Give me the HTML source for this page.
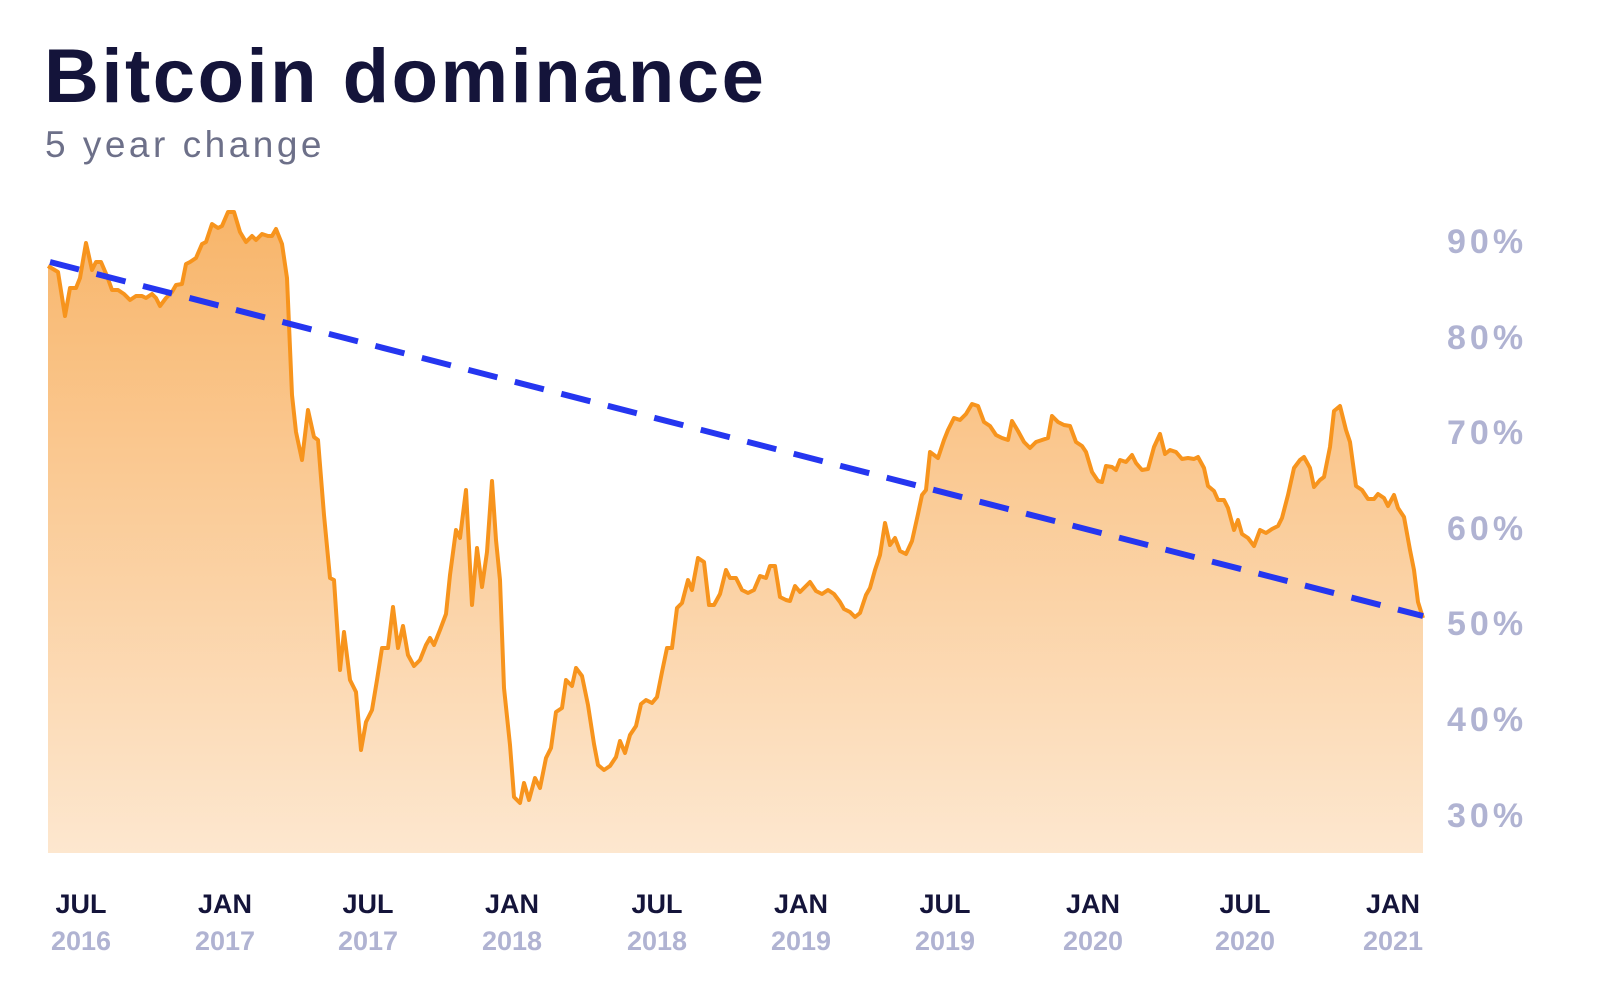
<!DOCTYPE html>
<html><head><meta charset="utf-8"><style>
body{margin:0;background:#fff;width:1600px;height:989px;overflow:hidden;font-family:"Liberation Sans",sans-serif}
</style></head><body>
<svg width="1600" height="989" viewBox="0 0 1600 989" xmlns="http://www.w3.org/2000/svg">
<defs><linearGradient id="g" x1="0" y1="0" x2="0" y2="1">
<stop offset="0" stop-color="#f8b56a"/><stop offset="1" stop-color="#fde7cf"/></linearGradient></defs>
<text x="44" y="102" font-size="76" font-weight="bold" fill="#14143a" letter-spacing="2.5">Bitcoin dominance</text>
<text x="45" y="157" font-size="37" fill="#6d7089" letter-spacing="3.5">5 year change</text>
<g id="d">
<polygon fill="url(#g)" points="48,853 48,266 58,272 65,316 70,288 76,288 80,278 86,243 92,270 96,262 101,262 107,276 112,290 118,290 124,294 130,300 136,296 142,296 146,298 152,294 156,298 160,306 166,298 172,292 176,285 182,284 186,264 190,262 196,258 202,244 206,242 212,224 218,228 222,226 228,212 234,212 240,232 246,242 252,236 256,240 262,234 268,236 272,236 276,229 282,244 287,278 292,395 296,432 302,460 308,410 314,437 318,440 324,515 330,578 334,580 340,670 344,632 350,680 356,692 361,750 366,722 372,710 377,680 382,648 388,648 393,607 398,648 403,626 408,655 414,666 420,660 426,645 430,638 434,645 440,630 446,614 450,575 456,530 460,538 466,490 472,605 477,548 482,587 487,552 492,481 496,540 500,580 504,688 510,745 514,797 520,803 524,783 529,800 535,778 540,788 546,758 551,748 556,712 562,708 566,680 572,686 576,668 582,676 588,705 594,744 598,765 604,770 610,766 616,757 620,741 625,753 630,735 636,726 641,704 646,700 652,703 657,697 662,672 667,648 672,648 677,608 682,603 688,580 692,590 698,558 704,562 709,605 714,605 720,594 726,570 730,578 736,578 742,590 748,593 754,590 760,576 766,578 770,566 775,566 780,597 786,600 790,601 795,586 800,592 806,586 810,582 816,591 822,594 828,590 834,594 840,602 844,609 850,612 855,617 860,613 866,595 870,588 875,570 880,555 885,523 890,545 895,538 900,551 906,554 912,541 918,514 922,495 926,490 930,452 938,458 944,440 948,430 954,418 960,420 966,414 972,404 978,406 984,422 990,426 996,435 1002,438 1008,440 1012,421 1018,431 1024,442 1030,448 1036,442 1042,440 1048,438 1052,416 1058,422 1064,425 1070,426 1076,442 1082,446 1086,452 1092,472 1098,481 1102,482 1106,466 1112,467 1116,470 1120,460 1126,462 1132,455 1136,463 1142,470 1148,469 1154,447 1160,434 1165,454 1170,450 1176,452 1182,459 1188,458 1194,459 1198,457 1204,468 1208,486 1214,491 1218,500 1224,500 1228,508 1234,530 1238,520 1242,534 1248,538 1254,546 1260,530 1266,533 1272,529 1278,526 1282,518 1288,495 1294,468 1300,460 1304,457 1310,468 1314,487 1320,480 1324,477 1330,447 1334,411 1340,406 1346,430 1350,442 1356,486 1362,490 1368,499 1374,499 1378,494 1384,498 1388,506 1394,495 1398,508 1404,517 1410,550 1414,570 1418,602 1423,618 1423,853"/>
<polyline fill="none" stroke="#f7941d" stroke-width="4" stroke-linejoin="round" points="48,266 58,272 65,316 70,288 76,288 80,278 86,243 92,270 96,262 101,262 107,276 112,290 118,290 124,294 130,300 136,296 142,296 146,298 152,294 156,298 160,306 166,298 172,292 176,285 182,284 186,264 190,262 196,258 202,244 206,242 212,224 218,228 222,226 228,212 234,212 240,232 246,242 252,236 256,240 262,234 268,236 272,236 276,229 282,244 287,278 292,395 296,432 302,460 308,410 314,437 318,440 324,515 330,578 334,580 340,670 344,632 350,680 356,692 361,750 366,722 372,710 377,680 382,648 388,648 393,607 398,648 403,626 408,655 414,666 420,660 426,645 430,638 434,645 440,630 446,614 450,575 456,530 460,538 466,490 472,605 477,548 482,587 487,552 492,481 496,540 500,580 504,688 510,745 514,797 520,803 524,783 529,800 535,778 540,788 546,758 551,748 556,712 562,708 566,680 572,686 576,668 582,676 588,705 594,744 598,765 604,770 610,766 616,757 620,741 625,753 630,735 636,726 641,704 646,700 652,703 657,697 662,672 667,648 672,648 677,608 682,603 688,580 692,590 698,558 704,562 709,605 714,605 720,594 726,570 730,578 736,578 742,590 748,593 754,590 760,576 766,578 770,566 775,566 780,597 786,600 790,601 795,586 800,592 806,586 810,582 816,591 822,594 828,590 834,594 840,602 844,609 850,612 855,617 860,613 866,595 870,588 875,570 880,555 885,523 890,545 895,538 900,551 906,554 912,541 918,514 922,495 926,490 930,452 938,458 944,440 948,430 954,418 960,420 966,414 972,404 978,406 984,422 990,426 996,435 1002,438 1008,440 1012,421 1018,431 1024,442 1030,448 1036,442 1042,440 1048,438 1052,416 1058,422 1064,425 1070,426 1076,442 1082,446 1086,452 1092,472 1098,481 1102,482 1106,466 1112,467 1116,470 1120,460 1126,462 1132,455 1136,463 1142,470 1148,469 1154,447 1160,434 1165,454 1170,450 1176,452 1182,459 1188,458 1194,459 1198,457 1204,468 1208,486 1214,491 1218,500 1224,500 1228,508 1234,530 1238,520 1242,534 1248,538 1254,546 1260,530 1266,533 1272,529 1278,526 1282,518 1288,495 1294,468 1300,460 1304,457 1310,468 1314,487 1320,480 1324,477 1330,447 1334,411 1340,406 1346,430 1350,442 1356,486 1362,490 1368,499 1374,499 1378,494 1384,498 1388,506 1394,495 1398,508 1404,517 1410,550 1414,570 1418,602 1423,618"/>
</g>
<line x1="50" y1="262" x2="1423" y2="616" stroke="#2536f0" stroke-width="6" stroke-dasharray="30 18"/>
<g font-size="34" font-weight="bold" fill="#b0b3d2" letter-spacing="4">
<text x="1447" y="253">90%</text><text x="1447" y="349">80%</text><text x="1447" y="444">70%</text><text x="1447" y="540">60%</text><text x="1447" y="635">50%</text><text x="1447" y="731">40%</text><text x="1447" y="827">30%</text>
</g>
<g font-size="27" font-weight="bold" text-anchor="middle">
<g fill="#14143a">
<text x="81" y="913">JUL</text><text x="225" y="913">JAN</text><text x="368" y="913">JUL</text><text x="512" y="913">JAN</text><text x="657" y="913">JUL</text><text x="801" y="913">JAN</text><text x="945" y="913">JUL</text><text x="1093" y="913">JAN</text><text x="1245" y="913">JUL</text><text x="1393" y="913">JAN</text></g>
<g fill="#b0b3d2">
<text x="81" y="950">2016</text><text x="225" y="950">2017</text><text x="368" y="950">2017</text><text x="512" y="950">2018</text><text x="657" y="950">2018</text><text x="801" y="950">2019</text><text x="945" y="950">2019</text><text x="1093" y="950">2020</text><text x="1245" y="950">2020</text><text x="1393" y="950">2021</text></g>
</g>
</svg>
</body></html>
